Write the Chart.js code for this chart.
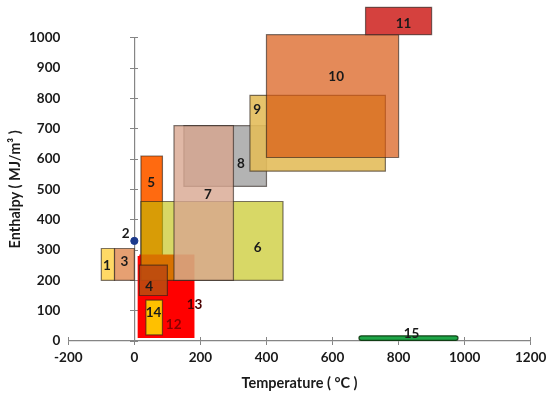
<!DOCTYPE html>
<html>
<head>
<meta charset="utf-8">
<script src="https://cdn.jsdelivr.net/npm/chart.js@4.4.1/dist/chart.umd.min.js"></script>
<style>
  html, body { margin: 0; padding: 0; background: #fff; }
  #wrap { width: 550px; height: 397px; }
</style>
</head>
<body>
<div id="wrap"><canvas id="chart"></canvas></div>
<script>
"use strict";

// boxes listed bottom layer first
const boxNames = ["5", "12", "13", "6", "8", "7", "4", "14", "1", "3", "9", "10", "11", "15"];
const tempMin = [20, 10, 15, 20, 150, 120, 15, 35, -100, -60, 350, 400, 700, 680];
const tempMax = [85, 180, 182, 450, 400, 300, 100, 85, -60, 0, 760, 800, 900, 980];
const enthMin = [250, 10, 10, 200, 510, 200, 150, 20, 200, 200, 560, 605, 1010, 2];
const enthMax = [610, 280, 285, 460, 710, 710, 250, 135, 305, 305, 810, 1010, 1100, 17];
const labelTemp = [51, 119, 182, 373, 323, 223, 45, 58, -83, -30, 372, 611, 815, 839];
const labelEnth = [523, 55, 119, 309, 586, 484, 179, 95, 250, 261, 762, 871, 1047, 23];

const pointName = "2";
const pointTemp = [0];
const pointEnth = [330];
const pointLabelTemp = -26;
const pointLabelEnth = 355;

const xTicks = [-200, 0, 200, 400, 600, 800, 1000, 1200];
const yTicks = [0, 100, 200, 300, 400, 500, 600, 700, 800, 900, 1000];

const FONT = "Lato, 'Open Sans', sans-serif";
const AXIS = "#858585";
const TEXT = "#1a1a1a";
const EDGE = "rgba(40,30,25,0.6)";

const boxStyle = {
  "1":  { fill: "#FFD966", edge: EDGE },
  "3":  { fill: "#E6A072", edge: EDGE },
  "4":  { fill: "rgba(188,74,14,0.9)", edge: EDGE },
  "5":  { fill: "#FF6A10", edge: EDGE },
  "6":  { fill: "rgba(190,190,0,0.6)", edge: EDGE },
  "7":  { fill: "rgba(216,166,144,0.8)", edge: EDGE },
  "8":  { fill: "rgba(150,150,150,0.72)", edge: EDGE },
  "9":  { fill: "rgba(227,188,91,0.9)", edge: EDGE },
  "10": { fill: "rgba(216,89,19,0.7)", edge: EDGE },
  "11": { fill: "#D5413E", edge: EDGE },
  "12": { fill: "#FF0000", edge: null, text: "#8a0000" },
  "13": { fill: "#FF0000", edge: null, text: "#4a0000" },
  "14": { fill: "#FFC000", edge: EDGE },
  "15": { fill: "#1FA548", edge: "rgba(0,40,0,0.8)", radius: 3 }
};

function pinTicks(values) {
  return scale => {
    scale.ticks = values.map(v => ({ value: v }));
  };
}

const boxesPlugin = {
  id: "boxes",
  beforeDatasetsDraw(chart) {
    const { ctx, scales: { x, y } } = chart;
    ctx.save();
    boxNames.forEach((name, i) => {
      const st = boxStyle[name];
      const l = x.getPixelForValue(tempMin[i]);
      const r = x.getPixelForValue(tempMax[i]);
      const t = y.getPixelForValue(enthMax[i]);
      const b = y.getPixelForValue(enthMin[i]);
      ctx.beginPath();
      if (st.radius) ctx.roundRect(l, t, r - l, b - t, st.radius);
      else ctx.rect(l, t, r - l, b - t);
      ctx.fillStyle = st.fill;
      ctx.fill();
      if (st.edge) {
        ctx.lineWidth = 1.2;
        ctx.strokeStyle = st.edge;
        ctx.stroke();
      }
    });
    ctx.restore();
  },
  afterDatasetsDraw(chart) {
    const { ctx, scales: { x, y } } = chart;
    ctx.save();
    ctx.font = `bold 13.5px ${FONT}`;
    ctx.textAlign = "center";
    ctx.textBaseline = "middle";
    boxNames.forEach((name, i) => {
      ctx.fillStyle = boxStyle[name].text || TEXT;
      ctx.fillText(name, x.getPixelForValue(labelTemp[i]), y.getPixelForValue(labelEnth[i]));
    });
    ctx.fillStyle = TEXT;
    ctx.fillText(pointName, x.getPixelForValue(pointLabelTemp), y.getPixelForValue(pointLabelEnth));
    ctx.restore();
  }
};

const tickFont = { family: FONT, size: 13.5, weight: "bold" };
const titleFont = { family: FONT, size: 14.5, weight: "bold" };
const plainNumber = v => String(v);

new Chart(document.getElementById("chart"), {
  type: "scatter",
  data: {
    datasets: [
      {
        label: pointName,
        data: pointTemp.map((t, i) => ({ x: t, y: pointEnth[i] })),
        backgroundColor: "#1c3a8c",
        borderColor: "#1c3a8c",
        pointRadius: 3.6,
        clip: false
      }
    ]
  },
  plugins: [boxesPlugin],
  options: {
    responsive: true,
    maintainAspectRatio: false,
    animation: false,
    layout: { padding: { top: 37.7, right: 19.3, left: 0, bottom: 0 } },
    plugins: { legend: { display: false }, tooltip: { enabled: false } },
    scales: {
      x: {
        type: "linear",
        position: "bottom",
        min: -200,
        max: 1200,
        afterBuildTicks: pinTicks(xTicks),
        ticks: { color: TEXT, font: tickFont, padding: 5, callback: plainNumber },
        grid: { drawOnChartArea: false, tickLength: 4, color: AXIS },
        border: { color: AXIS, width: 1.2 },
        title: {
          display: true,
          text: "Temperature ( °C )",
          color: TEXT,
          font: titleFont,
          padding: { top: 0, bottom: 5 }
        },
        afterFit: s => {
          s.height = 56;
          s.paddingLeft = 0;
          s.paddingRight = 0;
        }
      },
      xCross: {
        type: "linear",
        position: { y: 0 },
        min: -200,
        max: 1200,
        afterBuildTicks: pinTicks(xTicks),
        ticks: { display: false },
        grid: { drawOnChartArea: false, tickLength: -4, color: AXIS },
        border: { display: false }
      },
      y: {
        type: "linear",
        position: "left",
        min: 0,
        max: 1000,
        afterBuildTicks: pinTicks(yTicks),
        ticks: { color: TEXT, font: tickFont, padding: 8, callback: plainNumber },
        grid: { display: false, drawTicks: false },
        border: { display: false },
        title: {
          display: true,
          text: "Enthalpy ( MJ/m³ )",
          color: TEXT,
          font: titleFont,
          padding: { top: 7, bottom: 0 }
        },
        afterFit: s => {
          s.width = 68.3;
          s.paddingTop = 0;
          s.paddingBottom = 0;
        }
      },
      yAxis: {
        type: "linear",
        position: { x: 0 },
        min: 0,
        max: 1000,
        afterBuildTicks: pinTicks(yTicks),
        ticks: { display: false },
        grid: { drawOnChartArea: false, tickLength: 4, color: AXIS },
        border: { color: AXIS, width: 1.2 }
      },
      yCross: {
        type: "linear",
        position: { x: 0 },
        min: 0,
        max: 1000,
        afterBuildTicks: pinTicks(yTicks),
        ticks: { display: false },
        grid: { drawOnChartArea: false, tickLength: -4, color: AXIS },
        border: { display: false }
      }
    }
  }
});
</script>
</body>
</html>
